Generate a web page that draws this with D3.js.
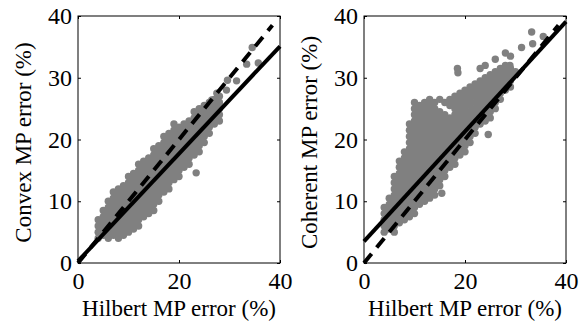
<!DOCTYPE html>
<html>
<head>
<meta charset="utf-8">
<script src="https://cdn.jsdelivr.net/npm/d3@7"></script>
<style>
  body { margin: 0; background: #fff; }
  svg { display: block; }
  text { font-family: "Liberation Serif", "Times New Roman", serif; fill: #000; }
</style>
</head>
<body>
<svg id="chart" width="579" height="325"></svg>
<script>
// tick values
const xTicks = [0, 20, 40];
const yTicks = [0, 10, 20, 30, 40];

// left panel: Hilbert vs Convex, columns of [x, [y...]]
const convexCols = [
  [4, [4, 5, 6, 7]],
  [5, [4.5, 5.5, 6.5, 7.5, 8.5]],
  [6, [4, 5, 6, 7, 8, 9, 10]],
  [7, [4.5, 5.5, 6.5, 7.5, 8.5, 9.5, 10.5, 11.5]],
  [8, [4, 5, 6, 7, 8, 9, 10, 11, 12]],
  [9, [4.5, 5.5, 6.5, 7.5, 8.5, 9.5, 10.5, 11.5, 12.5]],
  [10, [5, 6, 7, 8, 9, 10, 11, 12, 13, 14]],
  [11, [5.5, 6.5, 7.5, 8.5, 9.5, 10.5, 11.5, 12.5, 13.5, 14.5]],
  [12, [6, 7, 8, 9, 10, 11, 12, 13, 14, 15, 16]],
  [13, [7.5, 8.5, 9.5, 10.5, 11.5, 12.5, 13.5, 14.5, 15.5, 16.5]],
  [14, [8, 9, 10, 11, 12, 13, 14, 15, 16, 17]],
  [15, [8.5, 9.5, 10.5, 11.5, 12.5, 13.5, 14.5, 15.5, 16.5, 17.5, 18.5]],
  [16, [10, 11, 12, 13, 14, 15, 16, 17, 18, 19]],
  [17, [11.5, 12.5, 13.5, 14.5, 15.5, 16.5, 17.5, 18.5, 19.5, 20.5]],
  [18, [12, 13, 14, 15, 16, 17, 18, 19, 20, 21]],
  [19, [13.5, 14.5, 15.5, 16.5, 17.5, 18.5, 19.5, 20.5, 21.5, 22.5]],
  [20, [14, 15, 16, 17, 18, 19, 20, 21, 22]],
  [21, [15.5, 16.5, 17.5, 18.5, 19.5, 20.5, 21.5, 22.5]],
  [22, [16, 17, 18, 19, 20, 21, 22, 23]],
  [23, [17.5, 18.5, 19.5, 20.5, 21.5, 22.5, 23.5, 24.5]],
  [24, [18, 19, 20, 21, 22, 23, 24, 25]],
  [25, [19.5, 20.5, 21.5, 22.5, 23.5, 24.5, 25.5]],
  [26, [21, 22, 23, 24, 25, 26]],
  [27, [22.5, 23.5, 24.5, 25.5, 26.5]],
  [28, [23, 24, 25, 26, 27]]
];
const convexOutliers = [[23.4, 14.6], [26.5, 26.4], [27.5, 27.5], [29.4, 28.0], [29.6, 29.6], [31.4, 29.5],
  [33.4, 32.2], [34.5, 34.9], [35.7, 32.4]];

// right panel: Hilbert vs Coherent
const coherentCols = [
  [4, [5, 6, 7, 8, 9]],
  [5, [5.5, 6.5, 7.5, 8.5, 9.5, 10.5]],
  [6, [5, 6, 7, 8, 9, 10, 11, 12, 13, 14]],
  [7, [6.5, 7.5, 8.5, 9.5, 10.5, 11.5, 12.5, 13.5, 14.5, 15.5, 16.5]],
  [8, [7, 8, 9, 10, 11, 12, 13, 14, 15, 16, 17, 18]],
  [9, [7.5, 8.5, 9.5, 10.5, 11.5, 12.5, 13.5, 14.5, 15.5, 16.5, 17.5, 18.5, 19.5, 20.5, 21.5, 22.5]],
  [10, [8, 9, 10, 11, 12, 13, 14, 15, 16, 17, 18, 19, 20, 21, 22, 23, 24, 25, 26]],
  [11, [9.5, 10.5, 11.5, 12.5, 13.5, 14.5, 15.5, 16.5, 17.5, 18.5, 19.5, 20.5, 21.5, 22.5, 23.5, 24.5, 25.5]],
  [12, [10, 11, 12, 13, 14, 15, 16, 17, 18, 19, 20, 21, 22, 23, 24, 25, 26]],
  [13, [10.5, 11.5, 12.5, 13.5, 14.5, 15.5, 16.5, 17.5, 18.5, 19.5, 20.5, 21.5, 22.5, 23.5, 24.5, 25.5, 26.5]],
  [14, [11, 12, 13, 14, 15, 16, 17, 18, 19, 20, 21, 22, 23, 24, 25, 26]],
  [15, [12.5, 13.5, 14.5, 15.5, 16.5, 17.5, 18.5, 19.5, 20.5, 21.5, 22.5, 23.5, 24.5, 26.5]],
  [16, [14, 15, 16, 17, 18, 19, 20, 21, 22, 23, 24, 26]],
  [17, [15.5, 16.5, 17.5, 18.5, 19.5, 20.5, 21.5, 22.5, 23.5, 25.5, 26.5]],
  [18, [16, 17, 18, 19, 20, 21, 22, 23, 24, 25, 26, 27]],
  [19, [17.5, 18.5, 19.5, 20.5, 21.5, 22.5, 23.5, 24.5, 25.5, 26.5, 27.5]],
  [20, [18, 19, 20, 21, 22, 23, 24, 25, 26, 27, 28]],
  [21, [19.5, 20.5, 21.5, 22.5, 23.5, 24.5, 25.5, 26.5, 27.5, 28.5]],
  [22, [21, 22, 23, 24, 25, 26, 27, 28, 29]],
  [23, [22.5, 23.5, 24.5, 25.5, 26.5, 27.5, 28.5, 29.5, 31.5]],
  [24, [23, 24, 25, 26, 27, 28, 29, 30, 32]],
  [25, [23.5, 24.5, 25.5, 26.5, 27.5, 28.5, 29.5, 30.5]],
  [26, [25, 26, 27, 28, 29, 30, 31, 33]],
  [27, [26.5, 27.5, 28.5, 29.5, 30.5, 31.5]],
  [28, [28, 29, 30, 31, 32, 34]],
  [29, [28.5, 29.5, 30.5, 31.5, 33.5]]
];
const coherentOutliers = [[15.4, 11.3], [18.5, 31.5], [18.6, 30.8], [24.6, 20.8], [26.9, 31.0], [28.9, 32.0],
  [30.0, 31.0], [31.2, 34.9], [33.2, 37.4], [33.4, 35.5], [35.5, 36.7]];

// fitted lines [slope, intercept] and identity line end
const convexFit = [0.87, 0.3];
const coherentFit = [0.89, 3.5];
const identityEnd = 38.5;

const panels = [
  { left: 78, ylabel: "Convex MP error (%)", labelX: 31, cols: convexCols, extra: convexOutliers, fit: convexFit },
  { left: 364, ylabel: "Coherent MP error (%)", labelX: 317, cols: coherentCols, extra: coherentOutliers, fit: coherentFit }
];

const svg = d3.select("#chart");
const plotTop = 16, plotBottom = 263, plotW = 202;
const serif = '"Liberation Serif", "Times New Roman", serif';

panels.forEach(p => {
  const x = d3.scaleLinear().domain([0, 40]).range([p.left, p.left + plotW]);
  const y = d3.scaleLinear().domain([0, 40]).range([plotBottom, plotTop]);
  const g = svg.append("g");

  const pts = p.cols.flatMap(c => c[1].map(v => [c[0], v])).concat(p.extra);

  g.selectAll("circle")
    .data(pts)
    .enter()
    .append("circle")
    .attr("cx", d => x(d[0]))
    .attr("cy", d => y(d[1]))
    .attr("r", 3.7)
    .attr("fill", "#808080");

  // y = x dashed
  g.append("line")
    .attr("x1", x(0)).attr("y1", y(0))
    .attr("x2", x(identityEnd)).attr("y2", y(identityEnd))
    .attr("stroke", "#000")
    .attr("stroke-width", 4)
    .attr("stroke-dasharray", "12,8");

  // fitted line
  g.append("line")
    .attr("x1", x(0)).attr("y1", y(p.fit[1]))
    .attr("x2", x(40)).attr("y2", y(p.fit[0] * 40 + p.fit[1]))
    .attr("stroke", "#000")
    .attr("stroke-width", 4);

  // box
  g.append("rect")
    .attr("x", p.left).attr("y", plotTop)
    .attr("width", plotW).attr("height", plotBottom - plotTop)
    .attr("fill", "none").attr("stroke", "#000").attr("stroke-width", 1);

  // axes, ticks pointing inward on all four sides
  g.append("g").attr("transform", `translate(0,${plotBottom})`)
    .call(d3.axisBottom(x).tickValues(xTicks).tickSizeInner(-3).tickSizeOuter(0).tickPadding(9));
  g.append("g").attr("transform", `translate(0,${plotTop})`)
    .call(d3.axisTop(x).tickValues(xTicks).tickSizeInner(-3).tickSizeOuter(0).tickFormat(""));
  g.append("g").attr("transform", `translate(${p.left},0)`)
    .call(d3.axisLeft(y).tickValues(yTicks).tickSizeInner(-3).tickSizeOuter(0).tickPadding(6));
  g.append("g").attr("transform", `translate(${p.left + plotW},0)`)
    .call(d3.axisRight(y).tickValues(yTicks).tickSizeInner(-3).tickSizeOuter(0).tickFormat(""));

  g.selectAll(".domain").remove();
  g.selectAll(".tick line").attr("stroke", "#000");
  g.selectAll("g").attr("font-family", serif);
  g.selectAll(".tick text")
    .attr("font-family", serif)
    .style("font-size", "24px")
    .attr("fill", "#000");

  g.append("text")
    .attr("x", p.left + plotW / 2).attr("y", 316)
    .attr("text-anchor", "middle")
    .attr("font-family", serif)
    .style("font-size", "23px")
    .text("Hilbert MP error (%)");

  g.append("text")
    .attr("transform", `translate(${p.labelX},${(plotTop + plotBottom) / 2 + 3}) rotate(-90)`)
    .attr("text-anchor", "middle")
    .attr("font-family", serif)
    .style("font-size", "23px")
    .text(p.ylabel);
});
</script>
</body>
</html>
